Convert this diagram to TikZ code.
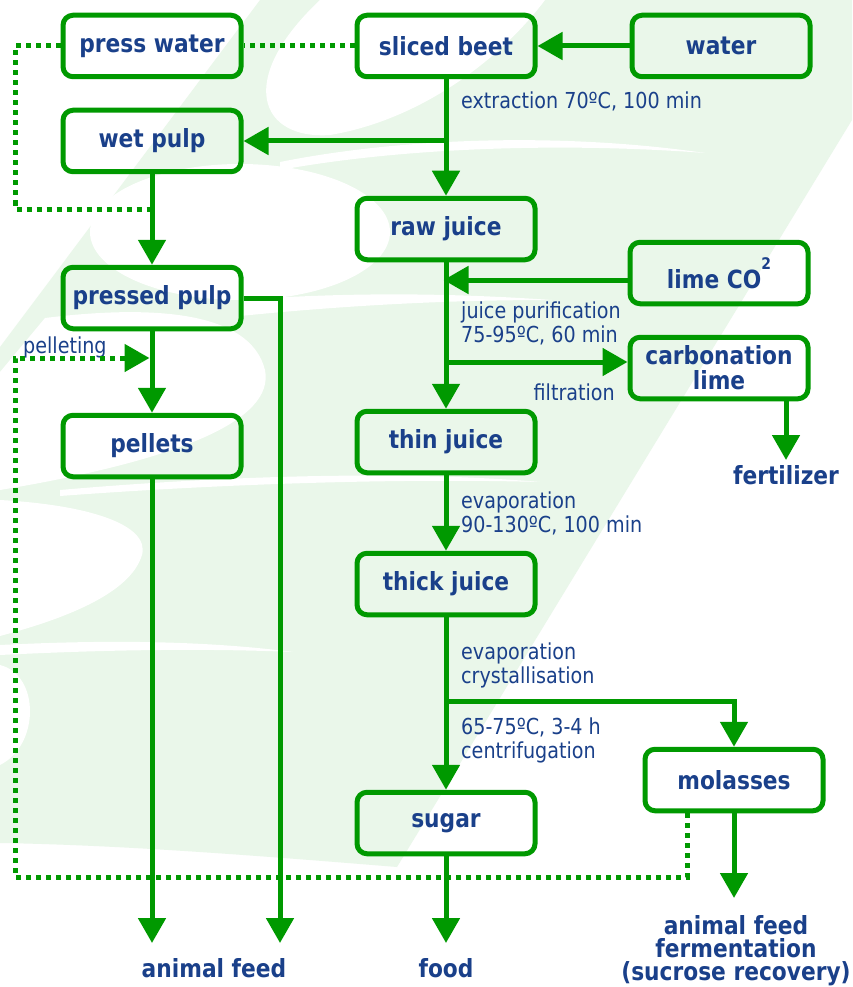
\documentclass[tikz,border=0pt]{standalone}
\usepackage{fontspec}
\setmainfont{DejaVu Sans}[FakeStretch=0.87]
\usetikzlibrary{arrows.meta}
\definecolor{gr}{RGB}{0,153,0}
\definecolor{tb}{RGB}{26,64,138}
\definecolor{bgg}{RGB}{234,247,234}
\tikzset{
  box/.style={draw=gr, line width=5pt, rounded corners=10pt, minimum width=178pt, minimum height=61.5pt,
    text=tb, font=\bfseries\fontsize{25}{25}\selectfont, align=center, inner sep=0pt},
  outtxt/.style={text=tb, font=\bfseries\fontsize{25}{23}\selectfont, align=center, inner sep=0pt},
  lbl/.style={text=tb, font=\fontsize{22}{24}\selectfont, align=left, inner sep=0pt, anchor=base west},
  arr/.style={draw=gr, line width=5pt, -{Triangle[length=25pt,width=27pt]}},
  dotl/.style={draw=gr, line width=5pt, dash pattern=on 5pt off 5pt},
}
\begin{document}
\begin{tikzpicture}[x=1pt,y=-1pt]
\useasboundingbox (0,0) rectangle (852,987);
\fill[white] (0,0) rectangle (852,987);
% background watermark
\fill[bgg] (260,0) -- (852,0) -- (852,120) -- (397,867) .. controls (250,855) and (120,845) .. (0,843) -- (0,347) -- cycle;
\fill[white] (240,232) ellipse [x radius=150pt, y radius=68pt];
\fill[white] (320,0) -- (545,0) .. controls (500,60) and (420,120) .. (330,135) .. controls (260,140) and (235,80) .. (320,0) -- cycle;
\fill[white] (280,162) .. controls (400,138) and (560,132) .. (705,153) .. controls (560,142) and (400,148) .. (280,170) -- cycle;
\fill[white] (240,300) .. controls (350,292) and (450,293) .. (552,300) .. controls (450,300) and (350,305) .. (240,316) -- cycle;
\fill[white] (0,372) -- (45,318) .. controls (150,305) and (250,310) .. (265,370) .. controls (275,420) and (180,460) .. (0,490) -- cycle;
\fill[white] (60,490) .. controls (220,476) and (400,470) .. (540,482) .. controls (400,478) and (220,484) .. (60,496) -- cycle;
\fill[white] (0,500) .. controls (90,505) and (150,525) .. (142,555) .. controls (130,595) and (60,620) .. (0,636) -- cycle;
\fill[white] (0,645) .. controls (100,640) and (200,640) .. (293,652) .. controls (200,648) and (100,650) .. (0,655) -- cycle;
\fill[white] (0,665) .. controls (40,675) and (40,745) .. (0,765) -- cycle;

% boxes
\node[box] (presswater) at (152,46) {press water};
\node[box] (slicedbeet) at (446,46) {sliced beet};
\node[box] (water) at (721,46) {water};
\node[box] (wetpulp) at (152,141) {wet pulp};
\node[box] (rawjuice) at (446,229) {raw juice};
\node[box] (limeco) at (719,273) {lime CO\raisebox{19pt}{\fontsize{16}{16}\selectfont 2}};
\node[box] (pressedpulp) at (152,298) {pressed pulp};
\node[box] (carbonation) at (719,368) {carbonation\\lime};
\node[box] (pellets) at (152,446) {pellets};
\node[box] (thinjuice) at (446,442) {thin juice};
\node[box] (thickjuice) at (446,584) {thick juice};
\node[box] (sugar) at (446,823) {sugar};
\node[box] (molasses) at (734,780) {molasses};

% end texts
\node[outtxt] (fert) at (786,475) {fertilizer};
\node[outtxt] (animalfeed) at (214,968) {animal feed};
\node[outtxt] (food) at (446,968) {food};
\node[outtxt] (molout) at (736,951) {animal feed\\fermentation\\(sucrose recovery)};

% labels (base = last line)
\node[lbl] (l1) at (461,109) {extraction 70ºC, 100 min};
\node[lbl] (l2) at (461,342) {juice purification\\75-95ºC, 60 min};
\node[lbl, anchor=base east] (l3) at (615,400) {filtration};
\node[lbl] (l4) at (461,532) {evaporation\\90-130ºC, 100 min};
\node[lbl] (l5) at (461,683) {evaporation\\crystallisation};
\node[lbl] (l6) at (461,758) {65-75ºC, 3-4 h\\centrifugation};
\node[lbl] (l7) at (23,353) {pelleting};

% coordinates
\coordinate (c1) at (15,46);
\coordinate (c2) at (15,209);
\coordinate (d1) at (687,877);
\coordinate (d2) at (15,877);
\coordinate (d3) at (15,358);
\coordinate (br) at (446,701);
\coordinate (fertip) at (786,460);
\coordinate (foodtip) at (446,943);
\coordinate (afL) at (152,943);
\coordinate (afR) at (280,943);
\coordinate (moltip) at (734,898);

% dotted connectors
\draw[dotl] (slicedbeet.west) -- (presswater.east);
\draw[dotl] (presswater.west) -- (c1) -- (c2) -- (wetpulp.south |- c2);
\draw[dotl, -{Triangle[length=25pt,width=27pt]}, shorten >=2.5pt] (molasses.south -| d1) -- (d1) -- (d2) -- (d3) -- (pressedpulp.south |- d3);

% solid connectors
\draw[arr] (water) -- (slicedbeet);
\draw[arr] (slicedbeet) -- (rawjuice);
\draw[arr] (slicedbeet.south |- wetpulp.east) -- (wetpulp.east);
\draw[arr] (wetpulp) -- (pressedpulp);
\draw[arr] (pressedpulp) -- (pellets);
\draw[arr, shorten >=-2.5pt] ([yshift=-7pt]limeco.west) -- ([yshift=-7pt]limeco.west -| rawjuice.south);
\draw[arr] (rawjuice) -- (thinjuice);
\draw[arr] ([yshift=6pt]carbonation.west -| rawjuice.south) -- ([yshift=6pt]carbonation.west);
\draw[arr] (carbonation.south -| fertip) -- (fertip);
\draw[arr] (thinjuice) -- (thickjuice);
\draw[arr] (thickjuice) -- (sugar);
\draw[arr] (br) -| (molasses.north);
\draw[arr] (sugar) -- (foodtip);
\draw[arr] (molasses) -- (moltip);
\draw[arr] (pellets) -- (afL);
\draw[arr] (pressedpulp.east) -| (afR);
\end{tikzpicture}
\end{document}
